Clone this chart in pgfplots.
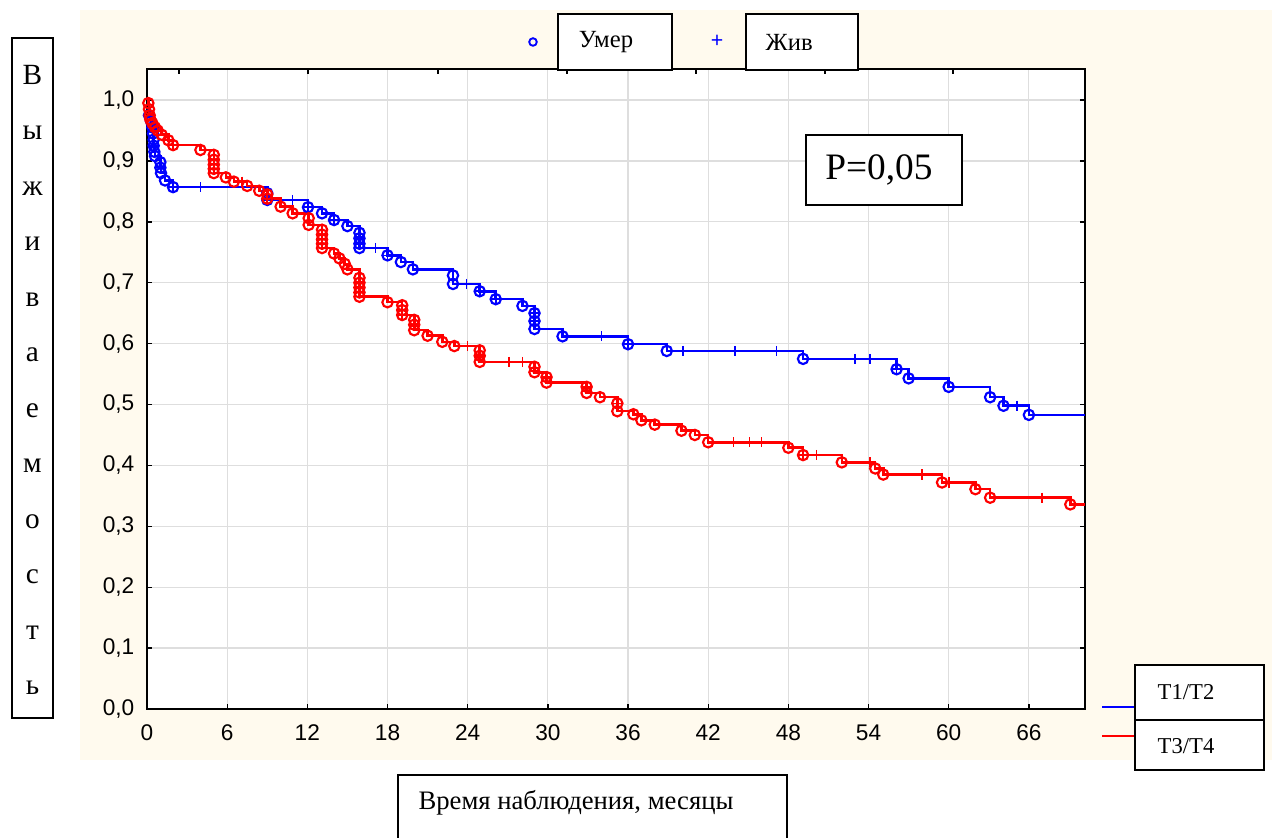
\documentclass[border=0pt]{standalone}
\usepackage{fontspec}
\setmainfont{Liberation Serif}
\setsansfont{Liberation Sans}
\usepackage{pgfplots}
\usepackage{pgfplotstable}
\pgfplotsset{compat=1.18}
\definecolor{cream}{RGB}{255,250,238}
\definecolor{gridgray}{RGB}{222,222,222}

% T1/T2 : step curve (time, survival) at each death
\pgfplotstableread{
t s
0 1.000
0.15 0.975
0.3 0.965
0.4 0.955
0.45 0.945
0.5 0.935
0.5 0.925
0.55 0.915
0.6 0.908
1.0 0.898
1.0 0.889
1.05 0.880
1.35 0.868
1.95 0.857
9.0 0.847
9.0 0.836
12.05 0.824
13.1 0.814
14.0 0.803
15.0 0.793
15.9 0.782
15.9 0.773
15.9 0.764
15.9 0.757
18.0 0.745
19.0 0.734
19.9 0.722
22.9 0.712
22.9 0.698
24.9 0.686
26.1 0.673
28.1 0.662
29.0 0.650
29.0 0.637
29.0 0.624
31.1 0.612
36.0 0.599
38.9 0.588
49.1 0.575
56.1 0.558
57.0 0.543
60.0 0.529
63.1 0.512
64.1 0.498
66.0 0.483
70.2 0.483
}\bluestep
\pgfplotstableread{
t s
0.15 0.975
0.3 0.965
0.4 0.955
0.45 0.945
0.5 0.935
0.5 0.925
0.55 0.915
0.6 0.908
1.0 0.898
1.0 0.889
1.05 0.880
1.35 0.868
1.95 0.857
9.0 0.847
9.0 0.836
12.05 0.824
13.1 0.814
14.0 0.803
15.0 0.793
15.9 0.782
15.9 0.773
15.9 0.764
15.9 0.757
18.0 0.745
19.0 0.734
19.9 0.722
22.9 0.712
22.9 0.698
24.9 0.686
26.1 0.673
28.1 0.662
29.0 0.650
29.0 0.637
29.0 0.624
31.1 0.612
36.0 0.599
38.9 0.588
49.1 0.575
56.1 0.558
57.0 0.543
60.0 0.529
63.1 0.512
64.1 0.498
66.0 0.483
}\bluedead
\pgfplotstableread{
t s
0.5 0.925
1.0 0.889
1.95 0.857
4.0 0.857
9.0 0.836
10.9 0.836
12.05 0.824
14.0 0.803
15.9 0.773
15.9 0.764
17.1 0.757
18.0 0.745
23.9 0.698
24.9 0.686
26.1 0.673
29.0 0.650
29.0 0.637
34.0 0.612
36.0 0.599
40.1 0.588
44.0 0.588
47.1 0.588
53.0 0.575
54.1 0.575
56.1 0.558
65.1 0.498
}\bluecens

% T3/T4
\pgfplotstableread{
t s
0 1.000
0.1 0.995
0.15 0.985
0.2 0.975
0.25 0.968
0.4 0.962
0.6 0.955
0.8 0.950
1.1 0.943
1.6 0.934
1.95 0.926
4.0 0.918
5.0 0.910
5.0 0.902
5.0 0.894
5.0 0.887
5.0 0.880
5.9 0.873
6.5 0.866
7.5 0.859
8.4 0.851
9.0 0.845
9.0 0.838
10.0 0.825
10.9 0.814
12.1 0.806
12.1 0.795
13.1 0.787
13.1 0.779
13.1 0.771
13.1 0.764
13.1 0.757
14.0 0.748
14.4 0.740
14.8 0.731
15.0 0.722
15.9 0.708
15.9 0.700
15.9 0.692
15.9 0.684
15.9 0.677
18.0 0.668
19.1 0.663
19.1 0.655
19.1 0.647
20.0 0.639
20.0 0.631
20.0 0.622
21.0 0.613
22.1 0.603
23.0 0.596
24.9 0.589
24.9 0.580
24.9 0.570
29.0 0.562
29.0 0.553
29.9 0.545
29.9 0.536
32.9 0.529
32.9 0.519
33.9 0.512
35.2 0.502
35.2 0.489
36.4 0.484
37.0 0.474
38.0 0.467
40.0 0.457
41.0 0.450
42.0 0.438
48.0 0.429
49.1 0.417
52.0 0.405
54.5 0.395
55.1 0.385
59.5 0.372
62.0 0.361
63.1 0.347
69.1 0.336
70.2 0.336
}\redstep
\pgfplotstableread{
t s
0.1 0.995
0.15 0.985
0.2 0.975
0.25 0.968
0.4 0.962
0.6 0.955
0.8 0.950
1.1 0.943
1.6 0.934
1.95 0.926
4.0 0.918
5.0 0.910
5.0 0.902
5.0 0.894
5.0 0.887
5.0 0.880
5.9 0.873
6.5 0.866
7.5 0.859
8.4 0.851
9.0 0.845
9.0 0.838
10.0 0.825
10.9 0.814
12.1 0.806
12.1 0.795
13.1 0.787
13.1 0.779
13.1 0.771
13.1 0.764
13.1 0.757
14.0 0.748
14.4 0.740
14.8 0.731
15.0 0.722
15.9 0.708
15.9 0.700
15.9 0.692
15.9 0.684
15.9 0.677
18.0 0.668
19.1 0.663
19.1 0.655
19.1 0.647
20.0 0.639
20.0 0.631
20.0 0.622
21.0 0.613
22.1 0.603
23.0 0.596
24.9 0.589
24.9 0.580
24.9 0.570
29.0 0.562
29.0 0.553
29.9 0.545
29.9 0.536
32.9 0.529
32.9 0.519
33.9 0.512
35.2 0.502
35.2 0.489
36.4 0.484
37.0 0.474
38.0 0.467
40.0 0.457
41.0 0.450
42.0 0.438
48.0 0.429
49.1 0.417
52.0 0.405
54.5 0.395
55.1 0.385
59.5 0.372
62.0 0.361
63.1 0.347
69.1 0.336
}\reddead
\pgfplotstableread{
t s
0.8 0.950
1.6 0.934
1.95 0.926
5.0 0.902
5.0 0.894
5.0 0.887
7.1 0.866
9.0 0.838
13.1 0.779
13.1 0.771
13.1 0.764
15.9 0.700
15.9 0.692
15.9 0.684
19.1 0.655
19.1 0.647
20.0 0.631
24.0 0.596
24.9 0.580
27.1 0.570
28.1 0.570
29.9 0.545
32.9 0.529
35.2 0.502
43.9 0.438
45.1 0.438
46.0 0.438
49.1 0.417
50.1 0.417
54.1 0.405
58.0 0.385
60.0 0.372
67.0 0.347
}\redcens

\begin{document}
\begin{tikzpicture}[x=0.75pt,y=0.75pt]
\path[use as bounding box] (0,0) rectangle (1272,838);
\fill[cream] (80,78) rectangle (1272,828);

\begin{axis}[
  at={(110.25pt,96.75pt)}, anchor=south west,
  scale only axis, width=703.5pt, height=480pt,
  xmin=0, xmax=70.2, ymin=0, ymax=1.051,
  axis background/.style={fill=white},
  axis line style={line width=1.3pt, black},
  xtick={0,6,12,18,24,30,36,42,48,54,60,66},
  ytick={0,0.1,0.2,0.3,0.4,0.5,0.6,0.7,0.8,0.9,1.0},
  xtick pos=left, ytick pos=both,
  tick align=inside, major tick length=3.5pt,
  tick style={black, line width=1pt},
  grid=major,
  major grid style={gridgray, line width=0.9pt},
  tick label style={font=\fontsize{17}{17}\selectfont\sffamily},
  /pgf/number format/assume math mode=true,
  y tick label style={/pgf/number format/fixed, /pgf/number format/fixed zerofill, /pgf/number format/precision=1, /pgf/number format/use comma, xshift=-6pt},
  x tick label style={yshift=-8pt, text height=12.3pt, text depth=0pt},
  clip=true,
]
\addplot[blue, line width=1.9pt, const plot, no marks] table[x=t,y=s] {\bluestep};
\addplot[blue, only marks, mark=o, mark size=3.9pt, mark options={line width=1.6pt}] table[x=t,y=s] {\bluedead};
\addplot[blue, only marks, mark=+, mark size=3.8pt, mark options={line width=1.2pt}] table[x=t,y=s] {\bluecens};
\addplot[red, line width=1.9pt, const plot, no marks] table[x=t,y=s] {\redstep};
\addplot[red, only marks, mark=o, mark size=3.9pt, mark options={line width=1.6pt}] table[x=t,y=s] {\reddead};
\addplot[red, only marks, mark=+, mark size=3.8pt, mark options={line width=1.2pt}] table[x=t,y=s] {\redcens};
\end{axis}

% top-axis ticks
\begin{axis}[
  at={(110.25pt,96.75pt)}, anchor=south west,
  scale only axis, width=703.5pt, height=480pt,
  xmin=0, xmax=70.2, ymin=0, ymax=1.051,
  axis x line*=top, hide y axis,
  axis line style={draw=none},
  xtick={2.39,12.05,21.77,31.43,41.08,50.73,60.31},
  xticklabels={},
  tick align=inside, major tick length=3.5pt,
  tick style={black, line width=1pt},
]
\end{axis}

% y label box
\draw[line width=0.9pt] (12,800) rectangle (53,120);
\node[align=center, font=\fontsize{22}{41.6}\selectfont] at (32.5,458)
  {В\\ы\\ж\\и\\в\\а\\е\\м\\о\\с\\т\\ь};

% top legend
\draw[blue, line width=1.4pt] (533,796) circle (3.8);
\node[blue, font=\fontsize{16}{16}\selectfont\sffamily] at (717,797) {+};
\draw[fill=white, line width=1.2pt] (558,824) rectangle (672,768);
\node[font=\fontsize{18.5}{18.5}\selectfont] at (606,796) {Умер};
\draw[fill=white, line width=1.2pt] (746,824) rectangle (858,768);
\node[font=\fontsize{18.5}{18.5}\selectfont, anchor=west] at (761,796) {Жив};

% P box
\draw[fill=white, line width=1pt] (806,703) rectangle (962,633);
\node[font=\fontsize{28}{28}\selectfont] at (879,668) {P=0,05};

% bottom right legend
\draw[blue, line width=1.2pt] (1102,131) -- (1135,131);
\draw[red, line width=1.2pt] (1102,102) -- (1135,102);
\draw[fill=white, line width=1.2pt] (1135,173) rectangle (1264,118);
\draw[fill=white, line width=1.2pt] (1135,118) rectangle (1264,68);
\node[font=\fontsize{17}{17}\selectfont, anchor=west] at (1153,146) {T1/T2};
\node[font=\fontsize{17}{17}\selectfont, anchor=west] at (1153,92) {T3/T4};

% x label box
\draw[fill=white, line width=1.2pt] (398,63) rectangle (787,-5);
\node[font=\fontsize{20}{20}\selectfont] at (576,35) {Время наблюдения, месяцы};
\end{tikzpicture}
\end{document}
